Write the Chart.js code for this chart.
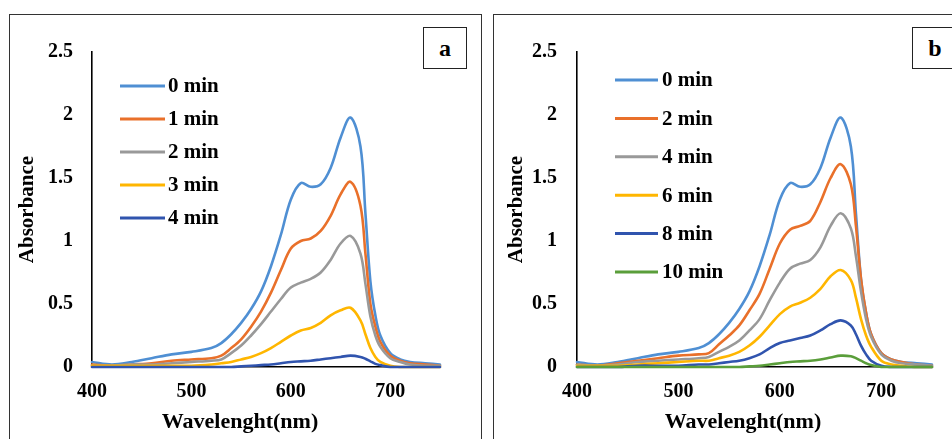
<!DOCTYPE html>
<html><head><meta charset="utf-8">
<script src="https://cdn.jsdelivr.net/npm/chart.js@4.4.1/dist/chart.umd.min.js"></script>
<style>
html,body{margin:0;padding:0;background:#fff;}
#wrap{position:relative;width:952px;height:439px;overflow:hidden;background:#fff;}
.frame{position:absolute;border:1.5px solid #333;box-sizing:border-box;}
.tag{position:absolute;border:1.5px solid #222;box-sizing:border-box;font:bold 24px "Liberation Serif","Times New Roman",serif;display:flex;align-items:center;justify-content:center;background:#fff;color:#000;}
canvas{position:absolute;top:0;}
</style></head>
<body><div id="wrap">
<div class="frame" style="left:9px;top:14px;width:473px;height:440px;"></div>
<div class="frame" style="left:493px;top:14px;width:480px;height:440px;"></div>
<canvas id="ca" width="481" height="439" style="left:0"></canvas>
<canvas id="cb" width="471" height="439" style="left:481px"></canvas>
<div class="tag" style="left:423px;top:27px;width:44px;height:42px;">a</div>
<div class="tag" style="left:912px;top:27px;width:46px;height:42px;">b</div>
</div>
<script>
// ---- data ----
const wavelengths = [400,420,440,460,480,500,520,530,540,550,560,570,580,590,600,610,620,630,640,650,660,670,675,680,685,690,700,710,720,735,750];
const xTicks = [400,500,600,700];
const yTicks = [0,0.5,1,1.5,2,2.5];
const xTitle = 'Wavelenght(nm)';
const yTitle = 'Absorbance';

const labelsA = ["0 min","1 min","2 min","3 min","4 min"];
const a0 = [0.04,0.02,0.04,0.07,0.10,0.12,0.15,0.19,0.26,0.35,0.46,0.60,0.80,1.05,1.33,1.46,1.43,1.45,1.58,1.82,1.98,1.75,1.22,0.68,0.41,0.25,0.11,0.06,0.04,0.03,0.02];
const a1 = [0.02,0.01,0.02,0.03,0.05,0.06,0.07,0.09,0.15,0.22,0.32,0.44,0.59,0.77,0.94,1.00,1.02,1.08,1.20,1.37,1.47,1.28,0.90,0.50,0.32,0.20,0.09,0.05,0.03,0.02,0.01];
const a2 = [0.01,0.01,0.02,0.02,0.03,0.04,0.05,0.06,0.11,0.17,0.25,0.34,0.44,0.54,0.63,0.67,0.70,0.75,0.85,0.98,1.04,0.90,0.66,0.40,0.25,0.16,0.07,0.04,0.02,0.01,0.01];
const a3 = [0.01,0.01,0.01,0.01,0.01,0.01,0.02,0.03,0.04,0.06,0.08,0.11,0.15,0.20,0.25,0.29,0.31,0.35,0.41,0.45,0.47,0.37,0.26,0.15,0.08,0.04,0.01,0,0,0,0];
const a4 = [0,0,0,0,0,0,0,0,0,0.005,0.01,0.015,0.02,0.03,0.04,0.045,0.05,0.06,0.07,0.08,0.09,0.08,0.065,0.045,0.025,0.015,0,0,0,0,0];

const labelsB = ["0 min","2 min","4 min","6 min","8 min","10 min"];
const b0 = [0.04,0.02,0.04,0.07,0.10,0.12,0.15,0.19,0.26,0.35,0.46,0.60,0.80,1.05,1.33,1.46,1.43,1.45,1.58,1.82,1.98,1.75,1.22,0.70,0.43,0.26,0.11,0.06,0.04,0.03,0.02];
const b2 = [0.02,0.01,0.03,0.05,0.07,0.09,0.10,0.11,0.18,0.25,0.33,0.45,0.58,0.78,0.98,1.09,1.12,1.16,1.31,1.50,1.61,1.45,1.12,0.70,0.43,0.26,0.11,0.06,0.04,0.02,0.01];
const b4 = [0.02,0.01,0.02,0.04,0.05,0.06,0.07,0.08,0.12,0.16,0.21,0.29,0.38,0.53,0.67,0.78,0.82,0.85,0.95,1.12,1.22,1.10,0.88,0.60,0.38,0.24,0.10,0.05,0.03,0.02,0.01];
const b6 = [0.01,0.01,0.01,0.02,0.03,0.04,0.05,0.05,0.07,0.09,0.12,0.17,0.24,0.33,0.42,0.48,0.51,0.55,0.62,0.72,0.77,0.69,0.55,0.38,0.25,0.16,0.05,0.02,0.01,0,0];
const b8 = [0,0,0,0.01,0.01,0.01,0.02,0.02,0.03,0.04,0.05,0.07,0.10,0.15,0.19,0.21,0.23,0.25,0.29,0.34,0.37,0.33,0.26,0.17,0.10,0.05,0.01,0,0,0,0];
const b10 = [0,0,0,0,0,0,0,0,0,0,0,0.005,0.01,0.02,0.03,0.04,0.045,0.05,0.06,0.075,0.09,0.085,0.07,0.05,0.03,0.015,0,0,0,0,0];

const colorsA = ["#4F8FD3","#E9702A","#999999","#FFB600","#3054AE"];
const colorsB = ["#4F8FD3","#E9702A","#999999","#FFB600","#3054AE","#5A9E3A"];

const FONT = '"Liberation Serif","Times New Roman",serif';

function makeDatasets(series, labels, colors){
  return series.map((s,i)=>({
    label: labels[i],
    data: s.map((v,j)=>({x: wavelengths[j], y: v})),
    borderColor: colors[i],
    backgroundColor: colors[i],
    borderWidth: 2.6,
    pointRadius: 0,
    showLine: true,
    fill: false,
    tension: 0.35,
    borderCapStyle: 'round',
    borderJoinStyle: 'round',
    clip: false,
    order: series.length - i
  }));
}

const legendPlugin = {
  id: 'innerLegend',
  afterDatasetsDraw(chart, args, opts){
    const ctx = chart.ctx;
    ctx.save();
    ctx.font = 'bold ' + opts.fontSize + 'px ' + FONT;
    ctx.textBaseline = 'middle';
    ctx.textAlign = 'left';
    chart.data.datasets.forEach((ds,i)=>{
      const y = opts.y0 + i*opts.dy;
      ctx.strokeStyle = ds.borderColor;
      ctx.lineWidth = 3;
      ctx.beginPath();
      ctx.moveTo(opts.x0, y);
      ctx.lineTo(opts.x0 + opts.len, y);
      ctx.stroke();
      ctx.fillStyle = '#000';
      ctx.fillText(ds.label, opts.x0 + opts.len + opts.gap, y+1);
    });
    // x-axis title (offset as in the original figure)
    ctx.font = 'bold 22px ' + FONT;
    ctx.textAlign = 'center';
    ctx.fillText(xTitle, opts.xTitleX, 422);
    ctx.restore();
  }
};

function makeChart(id, datasets, cfg){
  return new Chart(document.getElementById(id), {
    type: 'scatter',
    data: { datasets },
    plugins: [legendPlugin],
    options: {
      responsive: false,
      animation: false,
      events: [],
      layout: { padding: { left: cfg.padLeft, right: cfg.padRight, top: 52, bottom: 0 } },
      plugins: {
        legend: { display: false },
        tooltip: { enabled: false },
        innerLegend: cfg.legend
      },
      scales: {
        x: {
          type: 'linear', min: 400, max: 750,
          afterBuildTicks: s => { s.ticks = xTicks.map(v=>({value:v})); },
          afterFit: s => { s.height = 439 - 367; },
          grid: { display: false, drawTicks: false },
          border: { display: true, color: '#000', width: 1.6 },
          ticks: { color: '#000', padding: 13, font: { family: FONT, size: 20, weight: 'bold' }, maxRotation: 0 },
          title: { display: false }
        },
        y: {
          type: 'linear', min: 0, max: 2.5,
          afterBuildTicks: s => { s.ticks = yTicks.map(v=>({value:v})); },
          afterFit: s => { s.width = cfg.yWidth; },
          grid: { display: false, drawTicks: false },
          border: { display: true, color: '#000', width: 1.6 },
          ticks: { color: '#000', padding: cfg.yTickPad, font: { family: FONT, size: 20, weight: 'bold' }, callback: v => String(v) },
          title: { display: true, text: yTitle, color: '#000', padding: { top: 4, bottom: 0 }, font: { family: FONT, size: 21, weight: 'bold' } }
        }
      }
    }
  });
}

makeChart('ca', makeDatasets([a0,a1,a2,a3,a4], labelsA, colorsA), {
  padLeft: 11, padRight: 41, yWidth: 81, yTickPad: 19,
  legend: { x0: 120, len: 45, gap: 3, y0: 86, dy: 33, fontSize: 21, xTitleX: 240 }
});
makeChart('cb', makeDatasets([b0,b2,b4,b6,b8,b10], labelsB, colorsB), {
  padLeft: 19, padRight: 20, yWidth: 77, yTickPad: 20,
  legend: { x0: 134, len: 43, gap: 4, y0: 80, dy: 38.4, fontSize: 21, xTitleX: 262 }
});
</script>
</body></html>
